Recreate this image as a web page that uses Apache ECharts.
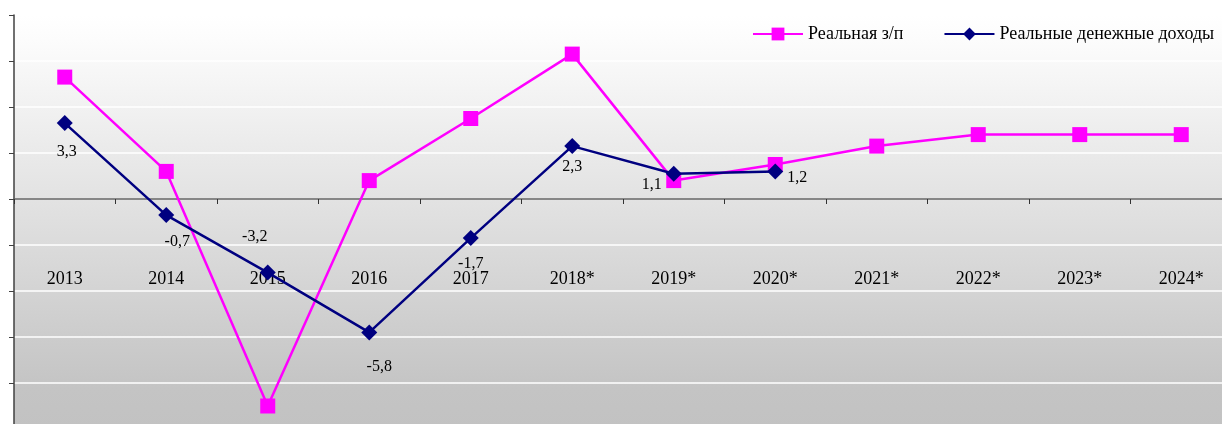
<!DOCTYPE html>
<html>
<head>
<meta charset="utf-8">
<script src="https://cdn.jsdelivr.net/npm/echarts@6/dist/echarts.min.js"></script>
<style>
html,body{margin:0;padding:0;background:#fff;}
#chart{width:1222px;height:424px;}
</style>
</head>
<body>
<div id="chart"></div>
<script>
var categories = ['2013','2014','2015','2016','2017','2018*','2019*','2020*','2021*','2022*','2023*','2024*'];
var wageSeriesName = 'Реальная з/п';
var incomeSeriesName = 'Реальные денежные доходы';
var realWage = [5.3, 1.2, -9.0, 0.8, 3.5, 6.3, 0.8, 1.5, 2.3, 2.8, 2.8, 2.8];
var realIncome = [3.3, -0.7, -3.2, -5.8, -1.7, 2.3, 1.1, 1.2, null, null, null, null];
var yTicks = {min: -10, max: 8, interval: 2};

// label placement (style only)
var incomeLabelOffsets = [[2,29],[11,27],[-13,-36],[10,34],[0,26],[0,21],[-22,11],[22,6]];

var serif = '"Liberation Serif","Times New Roman",serif';

var incomeData = realIncome.map(function(v, i){
  if (v === null) return null;
  var off = incomeLabelOffsets[i] || [0,20];
  return {value: v, label: {offset: off}};
});

var chart = echarts.init(document.getElementById('chart'), null, {renderer:'canvas'});
chart.setOption({
  animation: false,
  backgroundColor: '#ffffff',
  grid: {
    left: 14, top: 15, right: -10, bottom: -5,
    containLabel: false,
    outerBoundsMode: 'none',
    show: true, borderWidth: 0,
    backgroundColor: {
      type: 'linear', x: 0, y: 0, x2: 0, y2: 1,
      colorStops: [
        {offset: 0, color: '#ffffff'},
        {offset: 0.06, color: '#fcfcfc'},
        {offset: 0.9, color: '#c4c4c4'},
        {offset: 1, color: '#c2c2c2'}
      ]
    }
  },
  legend: {
    left: 752, top: 25, width: 900, orient: 'horizontal', padding: 0,
    itemWidth: 50, itemHeight: 16, itemGap: 40,
    textStyle: {fontFamily: serif, fontSize: 18, color: '#000'},
    data: [wageSeriesName, incomeSeriesName]
  },
  xAxis: {
    type: 'category',
    data: categories,
    boundaryGap: true,
    axisLine: {onZero: true, lineStyle: {color: '#606060', width: 1.5}},
    axisTick: {show: true, inside: false, length: 5, alignWithLabel: false, lineStyle: {color: '#333'}},
    axisLabel: {margin: -159, fontFamily: serif, fontSize: 18, color: '#000'},
    splitLine: {show: false}
  },
  yAxis: {
    type: 'value',
    min: yTicks.min, max: yTicks.max, interval: yTicks.interval,
    axisLine: {show: true, lineStyle: {color: '#404040', width: 1.5}},
    axisTick: {show: true, length: 5, lineStyle: {color: '#404040'}},
    axisLabel: {show: false},
    splitLine: {show: true, lineStyle: {color: '#ffffff', width: 1.5}}
  },
  series: [
    {
      name: wageSeriesName,
      type: 'line',
      data: realWage,
      symbol: 'rect',
      symbolSize: 15,
      itemStyle: {color: '#ff00ff'},
      lineStyle: {color: '#ff00ff', width: 2.5},
      z: 2
    },
    {
      name: incomeSeriesName,
      type: 'line',
      data: incomeData,
      symbol: 'diamond',
      symbolSize: 16,
      itemStyle: {color: '#000080'},
      lineStyle: {color: '#000080', width: 2.5},
      label: {
        show: true,
        position: 'inside',
        align: 'center',
        verticalAlign: 'middle',
        fontFamily: serif,
        fontSize: 16,
        color: '#000',
        formatter: function(p){ return String(p.value).replace('.', ','); }
      },
      z: 3
    }
  ]
});
</script>
</body>
</html>
